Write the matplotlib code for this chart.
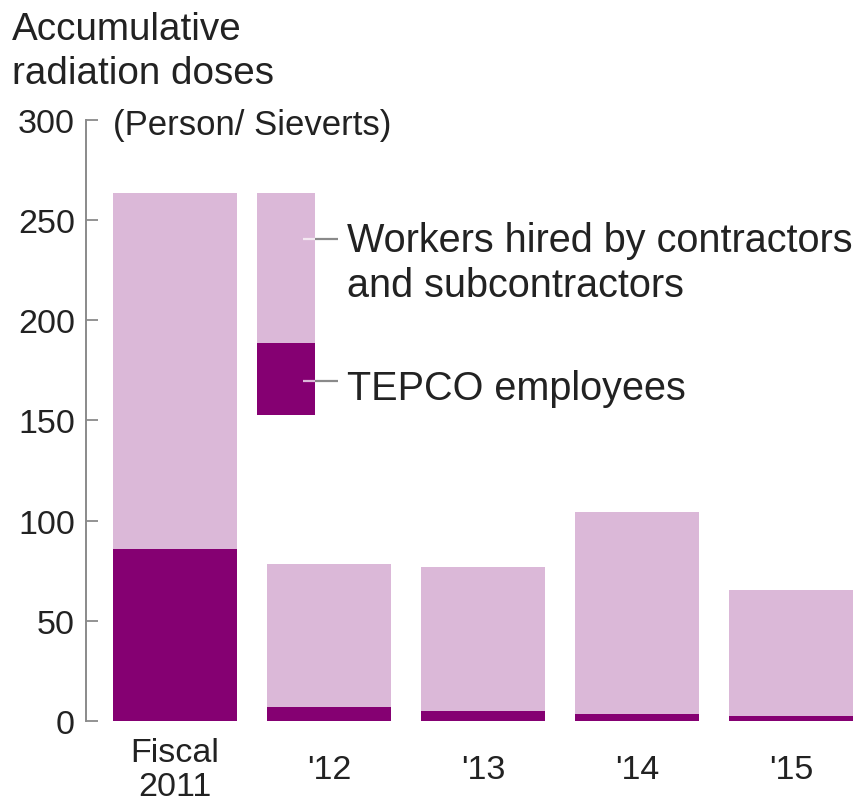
import matplotlib
matplotlib.use("Agg")
import matplotlib.pyplot as plt

# ---- data ----
categories = ["Fiscal\n2011", "'12", "'13", "'14", "'15"]
tepco = [86, 7, 5, 3.7, 2.5]
contractors = [177.5, 71.5, 72, 100.8, 62.7]
yticks = [0, 50, 100, 150, 200, 250, 300]

title_lines = ["Accumulative", "radiation doses"]
unit_label = "(Person/ Sieverts)"
legend_labels = ["Workers hired by contractors", "and subcontractors", "TEPCO employees"]

LIGHT = "#dbb8d8"
DARK = "#850072"
TEXT = "#222222"
GRAY = "#8a8a8a"

plt.rcParams["font.family"] = ["Liberation Sans", "DejaVu Sans"]

fig = plt.figure(figsize=(8.6, 8.04), dpi=100)
ax = fig.add_axes([0.1, 0.102, 0.9, 0.7475])

x = list(range(len(categories)))
ax.bar(x, tepco, width=0.8, color=DARK, linewidth=0)
ax.bar(x, contractors, width=0.8, bottom=tepco, color=LIGHT, linewidth=0)

ax.set_xlim(-0.578, 4.448)
ax.set_ylim(0, 300)
ax.set_yticks(yticks)
ax.set_yticklabels([str(v) for v in yticks])
ax.set_xticks(x)
ax.set_xticklabels(categories)

for s in ["top", "right", "bottom"]:
    ax.spines[s].set_visible(False)
ax.spines["left"].set_color(GRAY)
ax.spines["left"].set_linewidth(1.4)

ax.tick_params(axis="y", direction="in", length=8.5, width=1.3, color=GRAY,
               labelsize=24.5, labelcolor=TEXT, pad=8)
ax.tick_params(axis="x", length=0, labelsize=24.5, labelcolor=TEXT, pad=35)
for lab in ax.get_xticklabels():
    lab.set_va("center")
    lab.set_linespacing(1.15)

# ---- in-chart legend (stacked swatch with connectors) ----
sw_left, sw_w = 0.532, 0.377
sw_bottom, sw_mid, sw_top = 152.5, 188.5, 263.5
ax.bar([sw_left], [sw_mid - sw_bottom], width=sw_w, bottom=sw_bottom,
       align="edge", color=DARK, linewidth=0)
ax.bar([sw_left], [sw_top - sw_mid], width=sw_w, bottom=sw_mid,
       align="edge", color=LIGHT, linewidth=0)

sw_right = sw_left + sw_w
y_work, y_tep = 240.6, 169.7
ax.plot([0.831, sw_right], [y_work, y_work], color="#f4e8f2", lw=1.6, solid_capstyle="butt")
ax.plot([sw_right, 1.058], [y_work, y_work], color=GRAY, lw=1.6, solid_capstyle="butt")
ax.plot([0.831, sw_right], [y_tep, y_tep], color=LIGHT, lw=1.6, solid_capstyle="butt")
ax.plot([sw_right, 1.058], [y_tep, y_tep], color=GRAY, lw=1.6, solid_capstyle="butt")

tx = 1.117
ax.text(tx, 234.6, legend_labels[0], fontsize=28.5, color=TEXT, va="baseline", ha="left")
ax.text(tx, 212.2, legend_labels[1], fontsize=28.5, color=TEXT, va="baseline", ha="left")
ax.text(tx, 160.8, legend_labels[2], fontsize=28.5, color=TEXT, va="baseline", ha="left")

# ---- titles ----
fig.text(12 / 860, 1 - 40 / 804, title_lines[0], fontsize=27.8, color=TEXT, va="baseline", ha="left")
fig.text(12 / 860, 1 - 84 / 804, title_lines[1], fontsize=27.8, color=TEXT, va="baseline", ha="left")
fig.text(113 / 860, 1 - 135 / 804, unit_label, fontsize=25, color=TEXT, va="baseline", ha="left")

fig.savefig("out.png", dpi=100)
